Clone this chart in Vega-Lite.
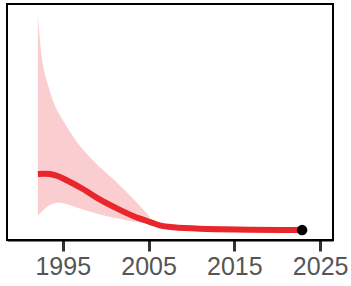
{
  "$schema": "https://vega.github.io/schema/vega-lite/v6.json",
  "width": 326,
  "height": 236,
  "autosize": "none",
  "padding": {"left": 7, "top": 4, "right": 18, "bottom": 46},
  "config": {
    "view": {"stroke": "black", "strokeWidth": 2},
    "font": "Liberation Sans"
  },
  "datasets": {
    "band": [
      {"year": 1992.1, "lo": 0.102, "hi": 0.953},
      {"year": 1992.7, "lo": 0.125, "hi": 0.740},
      {"year": 1993.5, "lo": 0.148, "hi": 0.630},
      {"year": 1994.2, "lo": 0.157, "hi": 0.560},
      {"year": 1995.5, "lo": 0.152, "hi": 0.479},
      {"year": 1997.0, "lo": 0.133, "hi": 0.398},
      {"year": 1999.3, "lo": 0.108, "hi": 0.309},
      {"year": 2001.3, "lo": 0.092, "hi": 0.244},
      {"year": 2003.2, "lo": 0.078, "hi": 0.175},
      {"year": 2004.8, "lo": 0.070, "hi": 0.112},
      {"year": 2005.6, "lo": 0.064, "hi": 0.078},
      {"year": 2007.0, "lo": 0.055, "hi": 0.063},
      {"year": 2011.0, "lo": 0.047, "hi": 0.052},
      {"year": 2023.0, "lo": 0.040, "hi": 0.044}
    ],
    "fit": [
      {"year": 1992.1, "value": 0.280},
      {"year": 1993.5, "value": 0.280},
      {"year": 1994.4, "value": 0.271},
      {"year": 1995.4, "value": 0.254},
      {"year": 1997.4, "value": 0.215},
      {"year": 1999.3, "value": 0.172},
      {"year": 2001.3, "value": 0.134},
      {"year": 2003.2, "value": 0.102},
      {"year": 2005.2, "value": 0.076},
      {"year": 2006.3, "value": 0.062},
      {"year": 2007.9, "value": 0.054},
      {"year": 2011.0, "value": 0.048},
      {"year": 2022.7, "value": 0.042}
    ],
    "obs": [
      {"year": 2022.9, "value": 0.042}
    ]
  },
  "layer": [
    {
      "data": {"name": "band"},
      "mark": {"type": "area", "color": "#f9c9cb", "opacity": 0.9, "interpolate": "catmull-rom"},
      "encoding": {
        "x": {"field": "year", "type": "quantitative", "scale": {"domain": [1988.5, 2026.5], "nice": false, "zero": false},
          "axis": {"values": [1995, 2005, 2015, 2025], "format": "d", "title": null, "grid": false,
            "domainColor": "black", "domainWidth": 2, "tickColor": "#333", "tickWidth": 3, "tickSize": 11,
            "labelFontSize": 25, "labelColor": "#555", "labelPadding": 3}},
        "y": {"field": "lo", "type": "quantitative", "scale": {"domain": [0, 1], "nice": false}, "axis": null},
        "y2": {"field": "hi"}
      }
    },
    {
      "data": {"name": "fit"},
      "mark": {"type": "line", "color": "#e8262b", "strokeWidth": 6, "interpolate": "catmull-rom"},
      "encoding": {
        "x": {"field": "year", "type": "quantitative"},
        "y": {"field": "value", "type": "quantitative"}
      }
    },
    {
      "data": {"name": "obs"},
      "mark": {"type": "point", "filled": true, "color": "black", "size": 110, "opacity": 1},
      "encoding": {
        "x": {"field": "year", "type": "quantitative"},
        "y": {"field": "value", "type": "quantitative"}
      }
    }
  ]
}
